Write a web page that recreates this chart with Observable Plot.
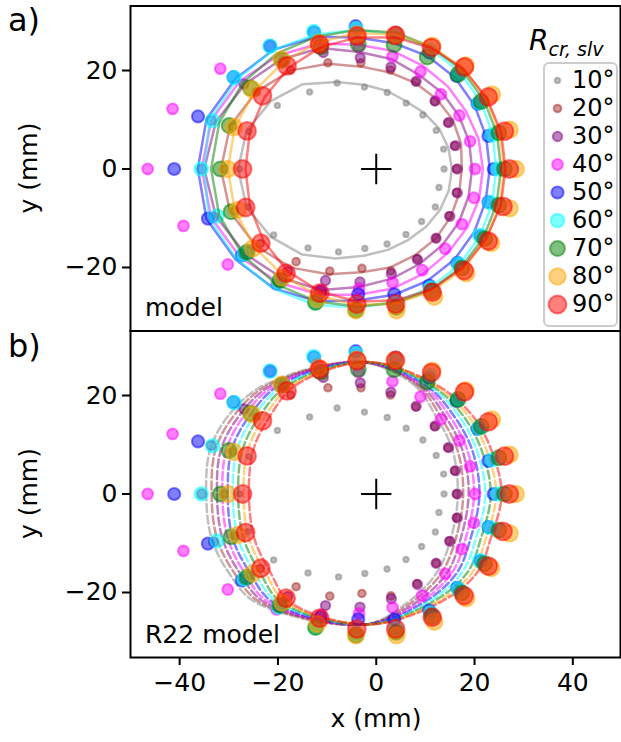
<!DOCTYPE html>
<html>
<head>
<meta charset="utf-8">
<script src="https://cdn.jsdelivr.net/npm/d3@7"></script>
<script src="https://cdn.jsdelivr.net/npm/@observablehq/plot@0.6"></script>
<style>
html,body{margin:0;padding:0;background:#fff;}
#fig{position:relative;width:621px;height:742px;overflow:hidden;font-family:"DejaVu Sans",sans-serif;color:#000;}
#fig > *{position:absolute;}
</style>
</head>
<body>
<div id="fig"></div>
<script>
// ---------------- data ----------------
const categories = ["10°","20°","30°","40°","50°","60°","70°","80°","90°"];
const colors = ["#808080","#a52a2a","#800080","#ff00ff","#0000ff","#00ffff","#008000","#ffa500","#ff0000"];
const markerR = [2.7, 3.8, 4.7, 5.4, 6.1, 6.8, 7.5, 8.2, 8.9];
const xTicks = [-40, -20, 0, 20, 40];
const yTicks = [-20, 0, 20];
const center = [{x: 0, y: 0}];

// ray angles (deg) of the 22 measurement directions
const rayAngles = [0, 16.4, 32.7, 49.1, 65.5, 81.8, 98.2, 114.5, 130.9, 147.3, 163.6, 180, 196.4, 212.7, 229.1, 245.5, 261.8, 278.2, 294.5, 310.9, 327.3, 343.6];

// measured radii (mm) along each ray
const measured10 = [13.8, 14.3, 14.5, 14.5, 14.7, 15.7, 16.8, 19.2, 20.7, 23.9, 27.0, 27.8, 27.2, 24.8, 21.2, 18.5, 16.3, 15.4, 14.6, 14.1, 14.3, 13.3];
const measured20 = [16.3, 16.6, 17.3, 18.1, 19.4, 20.3, 21.8, 23.7, 26.6, 29.0, 30.5, 31.0, 30.2, 28.0, 24.9, 22.8, 20.4, 20.9, 20.0, 18.6, 17.6, 17.0];
const measured30 = [16.5, 16.8, 17.5, 18.3, 19.6, 20.9, 22.8, 26.0, 29.0, 32.0, 35.0, 35.5, 34.5, 31.0, 27.5, 24.9, 23.2, 21.5, 20.2, 18.6, 17.8, 17.2];
const measured40 = [20.1, 19.9, 20.1, 20.1, 21.7, 23.1, 25.0, 29.0, 33.0, 37.7, 43.2, 46.5, 40.9, 35.9, 31.0, 27.0, 24.5, 23.3, 22.6, 21.4, 20.7, 20.7];
const measured50 = [23.9, 23.8, 24.5, 25.0, 26.0, 28.0, 29.3, 30.5, 33.0, 34.5, 37.8, 41.1, 35.7, 32.5, 30.0, 27.5, 25.7, 25.7, 26.0, 25.2, 25.2, 23.8];
const measured60 = [24.7, 24.5, 24.8, 25.5, 26.5, 27.2, 28.8, 30.7, 33.0, 34.3, 34.7, 35.6, 33.8, 32.0, 30.4, 29.8, 28.6, 27.5, 26.5, 25.5, 25.0, 24.1];
const measured70 = [26.1, 26.0, 25.4, 25.4, 25.0, 25.5, 25.6, 27.2, 29.3, 30.4, 31.2, 31.7, 30.8, 31.2, 29.9, 29.8, 29.0, 28.4, 27.3, 26.6, 26.2, 26.0];
const measured80 = [28.4, 28.3, 28.0, 27.8, 27.5, 27.5, 27.6, 28.2, 29.4, 30.0, 30.2, 30.2, 29.4, 29.9, 29.2, 29.0, 29.0, 29.0, 28.5, 28.0, 27.8, 28.3];
const measured90 = [27.1, 27.2, 27.1, 27.4, 27.1, 27.4, 27.3, 27.8, 27.7, 27.5, 27.4, 27.2, 27.7, 27.9, 28.0, 27.7, 27.7, 27.7, 27.5, 27.3, 27.1, 26.9];

// "model" radii (mm) along the same rays (panel a, solid lines)
const model10 = [15.4, 15.3, 15.2, 15.0, 15.0, 16.0, 17.3, 19.4, 22.8, 25.5, 27.5, 28.1, 27.5, 25.5, 23.0, 20.0, 17.8, 16.6, 15.8, 15.5, 15.4, 15.4];
const model20 = [17.4, 18.0, 18.5, 18.8, 19.2, 19.8, 21.0, 23.5, 26.5, 29.0, 31.0, 31.6, 31.0, 29.0, 26.5, 23.5, 21.2, 20.2, 19.2, 18.6, 18.0, 17.6];
const model30 = [19.5, 19.7, 20.0, 20.5, 21.0, 22.5, 24.0, 27.0, 29.5, 31.8, 34.0, 35.0, 34.0, 31.8, 29.3, 27.0, 24.2, 22.5, 21.2, 20.5, 20.0, 19.6];
const model40 = [21.7, 21.7, 21.7, 22.2, 23.0, 24.2, 25.5, 28.0, 30.5, 33.0, 35.0, 35.5, 35.0, 33.0, 30.5, 28.0, 25.8, 24.5, 23.3, 22.4, 22.0, 21.8];
const model50 = [23.1, 23.3, 23.8, 24.5, 25.2, 25.8, 27.0, 29.5, 32.0, 34.0, 36.0, 36.3, 36.0, 34.0, 32.0, 29.5, 27.0, 25.8, 25.0, 24.3, 23.7, 23.2];
const model60 = [24.4, 24.7, 25.3, 26.0, 26.8, 27.6, 28.5, 30.0, 32.0, 33.7, 35.3, 35.0, 35.5, 33.8, 32.1, 30.3, 28.4, 27.3, 26.5, 25.8, 25.1, 24.6];
const model70 = [25.4, 25.6, 26.0, 26.6, 27.2, 28.0, 28.5, 29.5, 31.0, 32.3, 33.3, 33.6, 33.3, 32.3, 31.0, 29.5, 28.2, 27.5, 27.0, 26.4, 25.9, 25.5];
const model80 = [26.0, 26.2, 26.6, 27.0, 27.3, 27.6, 27.9, 28.3, 28.8, 29.4, 30.0, 30.2, 30.0, 29.4, 28.8, 28.3, 27.9, 27.6, 27.3, 27.0, 26.5, 26.2];
const model90 = [26.3, 26.5, 26.7, 27.0, 27.0, 27.0, 27.0, 27.2, 27.2, 27.0, 26.8, 26.6, 26.8, 27.2, 27.5, 27.4, 27.2, 27.0, 26.9, 26.7, 26.5, 26.4];

// "R22 model" outlines (panel b, dashed): y levels (mm) and x at each level
const r22Y = [26.8, 22, 16, 9, 0, -9, -16, -22, -26.5, -22, -16, -9, 0, 9, 16, 22];
const r22x10 = [-3.2, 7.9, 12.0, 15.5, 16.6, 15.2, 12.3, 6.4, -2.3, -24.5, -30.0, -33.5, -34.6, -33.8, -30.0, -23.0];
const r22x20 = [-3.0, 8.5, 12.9, 16.5, 17.7, 16.2, 13.3, 7.2, -2.2, -23.6, -28.9, -32.4, -33.5, -32.7, -28.9, -22.2];
const r22x30 = [-2.9, 9.0, 13.9, 17.5, 18.8, 17.2, 14.4, 8.1, -2.1, -22.7, -27.8, -31.3, -32.4, -31.6, -27.8, -21.4];
const r22x40 = [-2.7, 9.6, 14.8, 18.5, 19.9, 18.2, 15.4, 8.9, -2.0, -21.9, -26.8, -30.2, -31.3, -30.5, -26.8, -20.6];
const r22x50 = [-2.5, 10.2, 15.7, 19.5, 21.0, 19.2, 16.4, 9.7, -2.0, -21.0, -25.7, -29.2, -30.2, -29.4, -25.7, -19.8];
const r22x60 = [-2.3, 10.7, 16.7, 20.4, 22.2, 20.3, 17.4, 10.5, -1.9, -20.1, -24.7, -28.1, -29.2, -28.3, -24.7, -18.9];
const r22x70 = [-2.1, 11.3, 17.6, 21.4, 23.3, 21.3, 18.5, 11.3, -1.8, -19.3, -23.6, -27.0, -28.1, -27.2, -23.6, -18.1];
const r22x80 = [-1.9, 11.9, 18.6, 22.4, 24.4, 22.3, 19.5, 12.2, -1.7, -18.4, -22.5, -25.9, -27.0, -26.1, -22.5, -17.3];
const r22x90 = [-1.7, 12.5, 19.5, 23.4, 25.5, 23.3, 20.5, 13.0, -1.6, -17.5, -21.5, -24.8, -25.9, -25.0, -21.5, -16.5];

// ---------------- tables ----------------
const measured = [measured10, measured20, measured30, measured40, measured50, measured60, measured70, measured80, measured90];
const models = [model10, model20, model30, model40, model50, model60, model70, model80, model90];
const r22 = [r22x10, r22x20, r22x30, r22x40, r22x50, r22x60, r22x70, r22x80, r22x90];
const polar = (radii) => radii.map((r, k) => ({
  x: r * Math.cos(rayAngles[k] * Math.PI / 180),
  y: r * Math.sin(rayAngles[k] * Math.PI / 180)
}));
const pointRows = measured.map(polar);
const modelRows = models.map(polar);
const r22Rows = r22.map(xs => xs.map((x, j) => ({x, y: r22Y[j]})));

// ---------------- layout ----------------
const fig = document.getElementById("fig");
const FONT = '"DejaVu Sans", sans-serif';
const xDomain = [-50, 49.7];
const common = {
  width: 621, marginLeft: 130, marginRight: 1,
  x: {domain: xDomain, axis: null},
  style: {fontFamily: FONT, fontSize: "25px", color: "black", background: "transparent", overflow: "visible"}
};
const dotsFor = (i) => Plot.dot(pointRows[i], {
  x: "x", y: "y", r: markerR[i], fill: colors[i], fillOpacity: 0.5,
  stroke: colors[i], strokeOpacity: 0.5, strokeWidth: 2, clip: true
});
const plusMark = Plot.dot(center, {x: "x", y: "y", symbol: "plus", r: 9.8, fill: "none", stroke: "black", strokeWidth: 2});
const yAxis = Plot.axisY({ticks: yTicks, tickSize: 8, tickPadding: 5, fontSize: 25, label: null, strokeWidth: 2});

const panelA = Plot.plot({
  ...common,
  height: 331, marginTop: 5.5, marginBottom: 0.5,
  y: {domain: [-32.9, 33.1], axis: null},
  marks: [
    ...categories.flatMap((c, i) => [
      Plot.line(modelRows[i], {x: "x", y: "y", curve: "linear-closed", stroke: colors[i], strokeOpacity: 0.5, strokeWidth: 2.5, clip: true}),
      dotsFor(i)
    ]),
    plusMark,
    yAxis,
    Plot.frame({stroke: "black", strokeWidth: 2})
  ]
});
panelA.style.left = "0px"; panelA.style.top = "0px";
fig.appendChild(panelA);

const panelB = Plot.plot({
  ...common,
  height: 412, marginTop: 0.5, marginBottom: 85,
  y: {domain: [-33.2, 33.1], axis: null},
  marks: [
    ...categories.map((c, i) => Plot.line(r22Rows[i], {x: "x", y: "y", curve: "catmull-rom-closed", stroke: colors[i], strokeOpacity: 0.5, strokeWidth: 2.5, strokeDasharray: "8,3.6", clip: true})),
    ...categories.map((c, i) => dotsFor(i)),
    plusMark,
    yAxis,
    Plot.axisX({ticks: xTicks, tickSize: 8, tickPadding: 8, fontSize: 25, label: null, strokeWidth: 2}),
    Plot.frame({stroke: "black", strokeWidth: 2})
  ]
});
panelB.style.left = "0px"; panelB.style.top = "330px";
fig.appendChild(panelB);

// legend box
const box = document.createElement("div");
Object.assign(box.style, {left: "543px", top: "62px", width: "75px", height: "265px", boxSizing: "border-box",
  border: "2px solid #cccccc", borderRadius: "6px", background: "rgba(255,255,255,0.8)"});
fig.appendChild(box);

const legend = Plot.plot({
  width: 74, height: 264, margin: 0,
  x: {domain: [0, 1], axis: null},
  y: {type: "point", domain: categories, range: [14.7, 244.7], padding: 0, axis: null},
  style: {fontFamily: FONT, fontSize: "24px", background: "transparent", overflow: "visible"},
  marks: [
    ...categories.map((c, i) => Plot.dot([c], {y: d => d, frameAnchor: "left", dx: 14, r: markerR[i],
      fill: colors[i], fillOpacity: 0.5, stroke: colors[i], strokeOpacity: 0.5, strokeWidth: 2})),
    Plot.text(categories, {y: d => d, text: d => d, frameAnchor: "left", dx: 28.5, textAnchor: "start", fontSize: 24, fill: "black"})
  ]
});
legend.style.left = "543px"; legend.style.top = "62px";
fig.appendChild(legend);

// annotation texts
const ann = d3.create("svg").attr("width", 621).attr("height", 742)
  .style("left", "0px").style("top", "0px").style("font-family", FONT).style("pointer-events", "none");
const t = (x, y, s, size, opts = {}) => {
  const e = ann.append("text").attr("x", x).attr("y", y).attr("font-size", size).text(s);
  if (opts.anchor) e.attr("text-anchor", opts.anchor);
  if (opts.rotate) e.attr("transform", `rotate(-90 ${x} ${y})`);
  return e;
};
t(8, 31, "a)", 32);
t(8, 357, "b)", 32);
t(37, 168, "y (mm)", 25, {anchor: "middle", rotate: true});
t(37, 493.5, "y (mm)", 25, {anchor: "middle", rotate: true});
t(376, 727, "x (mm)", 25, {anchor: "middle"});
t(145, 316, "model", 25);
t(145, 643, "R22 model", 25);
const title = ann.append("text").attr("x", 529).attr("y", 50).attr("font-style", "italic");
title.append("tspan").attr("font-size", 28).text("R");
title.append("tspan").attr("font-size", 19).attr("dy", 6).text("cr, slv");
fig.appendChild(ann.node());
</script>
</body>
</html>
